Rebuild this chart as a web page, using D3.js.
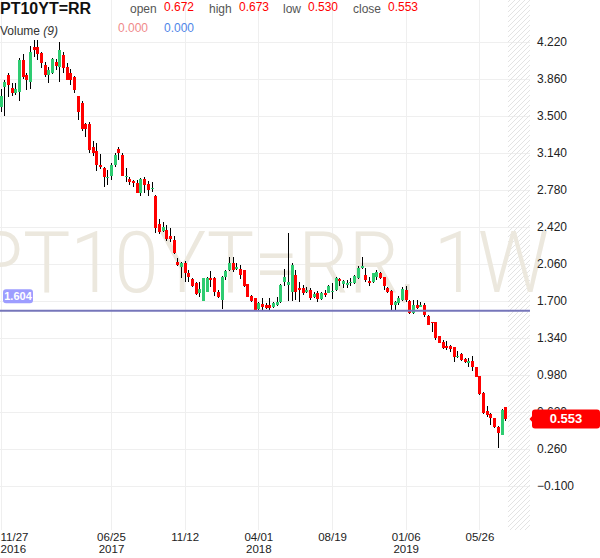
<!DOCTYPE html>
<html><head><meta charset="utf-8">
<script src="https://cdn.jsdelivr.net/npm/d3@7"></script>
<style>body{margin:0;background:#fff;} svg{display:block;font-family:"Liberation Sans",Arial,sans-serif;}</style>
</head><body><svg id="c" width="600" height="558"></svg>
<script>
// ---- data ----
const symbol = "PT10YT=RR";
const watermark = "PT10YT=RR, 1W";
const firstWeek = "2016-11-27";
const lastWeek = "2019-07-14";
const opens = [3.584,3.779,3.898,3.769,3.720,3.736,4.044,3.898,3.833,4.168,4.168,4.115,3.996,3.898,3.915,4.028,3.979,4.093,3.979,3.915,
3.882,3.694,3.623,3.419,3.419,3.201,3.162,3.023,2.991,2.893,2.916,3.023,3.176,3.120,2.903,2.884,2.867,2.851,2.753,2.884,
2.835,2.786,2.721,2.449,2.384,2.391,2.332,2.293,2.082,2.034,2.067,1.975,1.911,1.878,1.775,1.703,1.790,1.927,1.927,1.790,
1.710,1.936,2.001,2.072,2.008,2.008,2.001,1.865,1.749,1.726,1.619,1.671,1.661,1.661,1.644,1.661,1.690,1.888,1.855,1.790,
1.953,1.823,1.830,1.790,1.807,1.736,1.781,1.717,1.781,1.781,1.788,1.807,1.911,1.865,1.855,1.872,1.872,1.921,2.018,1.953,
1.897,1.888,1.930,1.975,1.930,1.823,1.800,1.661,1.684,1.710,1.807,1.703,1.580,1.661,1.644,1.661,1.554,1.493,1.498,1.360,
1.304,1.262,1.262,1.250,1.152,1.184,1.133,1.094,1.119,1.055,0.970,0.808,0.633,0.601,0.559,0.477,0.396,0.672];
const highs = [3.759,3.850,3.921,3.818,3.823,4.064,4.103,3.921,4.181,4.239,4.239,4.125,4.028,3.979,4.061,4.051,4.222,4.125,4.018,3.954,
3.889,3.694,3.646,3.434,3.444,3.259,3.240,3.130,3.006,2.974,3.045,3.137,3.195,3.137,2.991,2.909,2.877,2.877,2.894,2.903,
2.870,2.860,2.731,2.495,2.471,2.439,2.407,2.332,2.115,2.082,2.092,2.001,1.921,1.888,1.888,1.925,1.936,1.995,1.936,1.807,
1.940,2.001,2.125,2.125,2.067,2.050,2.001,1.870,1.758,1.730,1.690,1.726,1.680,1.729,1.693,1.742,1.865,2.008,2.358,2.067,
2.001,1.888,1.856,1.839,1.823,1.790,1.797,1.790,1.807,1.855,1.872,1.930,1.921,1.904,1.904,1.921,1.953,2.040,2.125,2.018,
1.930,1.975,2.001,1.985,1.936,1.839,1.807,1.703,1.749,1.839,1.846,1.710,1.710,1.710,1.693,1.677,1.564,1.498,1.498,1.364,
1.320,1.314,1.272,1.255,1.216,1.197,1.143,1.143,1.165,1.061,0.975,0.812,0.678,0.613,0.559,0.484,0.646,0.673];
const lows = [3.541,3.500,3.687,3.694,3.704,3.648,3.857,3.752,3.759,4.071,4.044,3.964,3.876,3.818,3.908,3.947,3.833,3.921,3.850,3.801,
3.720,3.461,3.354,3.298,3.142,3.110,2.967,2.981,2.812,2.828,2.877,3.006,3.072,2.916,2.860,2.828,2.812,2.748,2.721,2.753,
2.721,2.763,2.358,2.352,2.374,2.287,2.277,2.157,2.040,1.921,1.888,1.888,1.839,1.758,1.742,1.700,1.790,1.839,1.749,1.726,
1.619,1.904,1.995,1.985,2.001,1.911,1.839,1.738,1.693,1.608,1.612,1.612,1.622,1.612,1.629,1.651,1.684,1.846,1.703,1.703,
1.710,1.693,1.758,1.775,1.710,1.726,1.693,1.710,1.736,1.775,1.719,1.800,1.846,1.823,1.823,1.846,1.865,1.911,2.008,1.888,
1.846,1.872,1.904,1.911,1.807,1.781,1.606,1.606,1.661,1.700,1.693,1.573,1.573,1.619,1.638,1.547,1.466,1.401,1.320,1.290,
1.230,1.223,1.207,1.109,1.142,1.119,1.100,1.061,1.022,0.960,0.785,0.600,0.574,0.493,0.461,0.267,0.396,0.530];
const closes = [3.697,3.833,3.801,3.720,3.759,4.044,3.882,3.850,4.125,4.142,4.103,4.012,3.898,3.947,4.051,3.986,4.142,3.964,3.850,3.850,
3.752,3.541,3.370,3.370,3.169,3.137,3.023,3.006,2.909,2.909,3.023,3.120,3.137,2.916,2.916,2.860,2.845,2.753,2.884,2.828,
2.780,2.802,2.407,2.374,2.423,2.300,2.300,2.170,2.050,2.067,1.975,1.936,1.846,1.768,1.814,1.921,1.921,1.904,1.790,1.736,
1.936,1.995,2.072,2.001,2.034,1.953,1.846,1.742,1.703,1.612,1.677,1.644,1.629,1.629,1.683,1.693,1.855,1.936,1.888,2.050,
1.790,1.804,1.775,1.807,1.726,1.768,1.717,1.781,1.758,1.846,1.802,1.921,1.897,1.897,1.878,1.888,1.943,2.018,2.040,1.904,
1.878,1.969,1.979,1.921,1.846,1.790,1.661,1.693,1.726,1.814,1.710,1.586,1.661,1.629,1.661,1.564,1.466,1.483,1.337,1.294,
1.240,1.240,1.230,1.152,1.165,1.126,1.109,1.119,1.055,0.963,0.795,0.607,0.591,0.559,0.471,0.419,0.640,0.553];
const yTicks = [4.22,3.86,3.5,3.14,2.78,2.42,2.06,1.7,1.34,0.98,0.62,0.26,-0.1];
const xTickDates = ["2016-11-27","2017-06-25","2017-11-12","2018-04-01","2018-08-19","2019-01-06","2019-05-26"];
const xTickLine1 = ["11/27","06/25","11/12","04/01","08/19","01/06","05/26"];
const xTickLine2 = ["2016","2017","","2018","","2019",""];
const refLevel = 1.604;
const lastOHLC = {open:"0.672", high:"0.673", low:"0.530", close:"0.553"};
const volumeValues = ["0.000","0.000"];

// ---- setup ----
const parse = d3.timeParse("%Y-%m-%d");
const weeks = d3.timeWeek.range(parse(firstWeek), d3.timeDay.offset(parse(lastWeek),1));
const candles = weeks.map((d,i)=>({date:d,o:opens[i],h:highs[i],l:lows[i],c:closes[i]}));
const plotR = 530, plotB = 530;
const svg = d3.select("#c");
const x = d3.scaleTime().domain([parse(xTickDates[0]), parse(xTickDates[6])]).range([0.5, 479.4]);
const y = d3.scaleLinear().domain([-0.1, 4.22]).range([486, 42]);
const step = x(weeks[1]) - x(weeks[0]);

const defs = svg.append("defs");
const pat = defs.append("pattern").attr("id","hatch").attr("patternUnits","userSpaceOnUse").attr("width",5).attr("height",5);
pat.append("path").attr("d","M-1,1 l2,-2 M0,5 l5,-5 M4,6 l2,-2").attr("stroke","#e3e3e3").attr("stroke-width",1);
defs.append("clipPath").attr("id","clip").append("rect").attr("x",0).attr("y",0).attr("width",plotR).attr("height",plotB);

// gridlines
const grid = svg.append("g").attr("shape-rendering","crispEdges");
grid.selectAll(".hg").data(yTicks).join("line")
  .attr("x1",0).attr("x2",plotR).attr("y1",d=>Math.round(y(d))+0.5).attr("y2",d=>Math.round(y(d))+0.5)
  .attr("stroke","#efefef");
grid.selectAll(".vg").data(xTickDates).join("line")
  .attr("x1",d=>Math.round(x(parse(d)))+0.5).attr("x2",d=>Math.round(x(parse(d)))+0.5).attr("y1",0).attr("y2",plotB)
  .attr("stroke","#efefef");

// future hatch
const lastX = x(weeks[weeks.length-1]) + step*0.75;
svg.append("rect").attr("x",lastX).attr("y",0).attr("width",plotR-lastX).attr("height",plotB).attr("fill","url(#hatch)");

// watermark
svg.append("text").attr("x",-26).attr("y",292).attr("font-size",85)
  .attr("textLength",575).attr("lengthAdjust","spacingAndGlyphs")
  .attr("fill","#ece8de").style("font-family","Roboto, 'Liberation Sans', sans-serif").style("font-weight",300)
  .text(watermark);

// candles
const cg = svg.append("g").attr("clip-path","url(#clip)").attr("shape-rendering","crispEdges");
cg.selectAll(".wick").data(candles).join("line")
  .attr("x1",d=>Math.round(x(d.date))+0.5).attr("x2",d=>Math.round(x(d.date))+0.5)
  .attr("y1",d=>y(d.h)).attr("y2",d=>y(d.l)).attr("stroke","#000").attr("stroke-width",1);
cg.selectAll(".body").data(candles).join("rect")
  .attr("x",d=>Math.round(x(d.date))-1).attr("width",3)
  .attr("y",d=>y(Math.max(d.o,d.c)))
  .attr("height",d=>Math.max(1,Math.abs(y(d.o)-y(d.c))))
  .attr("fill",d=>d.c>=d.o?"#2ecc71":"#ff0000");

// reference line
const ly = y(refLevel);
svg.append("line").attr("x1",0).attr("x2",plotR).attr("y1",ly).attr("y2",ly).attr("stroke","#7676ba").attr("stroke-width",2);
svg.append("rect").attr("x",3).attr("y",ly-21.5).attr("width",30).attr("height",14).attr("rx",3).attr("fill","#9d9dff");
svg.append("text").attr("x",18).attr("y",ly-10.5).attr("text-anchor","middle").attr("font-size",11).attr("font-weight","bold")
  .attr("fill","#fff").text(d3.format(".3f")(refLevel));

// y axis (right)
const yAxis = svg.append("g").attr("transform",`translate(${plotR},0)`)
  .call(d3.axisRight(y).tickValues(yTicks).tickFormat(d3.format(".3f")).tickSize(0).tickPadding(7));
yAxis.select(".domain").remove();
yAxis.selectAll("text").attr("font-size",12).attr("fill","#222").style("font-family","'Liberation Sans',Arial,sans-serif");

// x axis
const xAxis = svg.append("g").attr("transform",`translate(0,${plotB})`)
  .call(d3.axisBottom(x).tickValues(xTickDates.map(parse)).tickFormat((d,i)=>xTickLine1[i]).tickSize(0).tickPadding(3));
xAxis.select(".domain").remove();
xAxis.selectAll(".tick text").each(function(d,i){
  const t = d3.select(this);
  t.attr("font-size",11.5).attr("fill","#222").style("font-family","'Liberation Sans',Arial,sans-serif");
  if (i===0) t.attr("text-anchor","start").attr("x",-0.5);
  if (xTickLine2[i]) {
    const xv = t.attr("x") || 0;
    t.append("tspan").attr("x",xv).attr("dy","1.05em").text(xTickLine2[i]);
  }
});

// last price label
const cy = y(closes[closes.length-1]);
svg.append("path").attr("d",`M529.5,${cy} L534,${cy-5} L534,${cy+5} Z`).attr("fill","#ff0000");
svg.append("rect").attr("x",532).attr("y",cy-9.5).attr("width",68).attr("height",19).attr("rx",3).attr("fill","#ff0000");
svg.append("text").attr("x",566).attr("y",cy+4.6).attr("text-anchor","middle").attr("font-size",13).attr("font-weight","bold")
  .attr("fill","#fff").text(lastOHLC.close);

// header
const hdr = svg.append("g").attr("font-size",12);
hdr.append("text").attr("x",0).attr("y",13.5).attr("font-size",16).attr("font-weight","bold").attr("fill","#111").text(symbol);
const items = [["open",130,164,lastOHLC.open],["high",209,239,lastOHLC.high],["low",283,308,lastOHLC.low],["close",353,388,lastOHLC.close]];
items.forEach(([lab,lx,vx,val])=>{
  hdr.append("text").attr("x",lx).attr("y",13).attr("fill","#555").text(lab);
  hdr.append("text").attr("x",vx).attr("y",10.7).attr("fill","#ff0000").text(val);
});
const vol = hdr.append("text").attr("x",0).attr("y",34.5).attr("fill","#333");
vol.append("tspan").text("Volume ");
vol.append("tspan").attr("font-style","italic").text("(9)");
hdr.append("text").attr("x",118).attr("y",31.7).attr("fill","#f08a8a").text(volumeValues[0]);
hdr.append("text").attr("x",164).attr("y",31.7).attr("fill","#4f86e8").text(volumeValues[1]);
</script></body></html>
